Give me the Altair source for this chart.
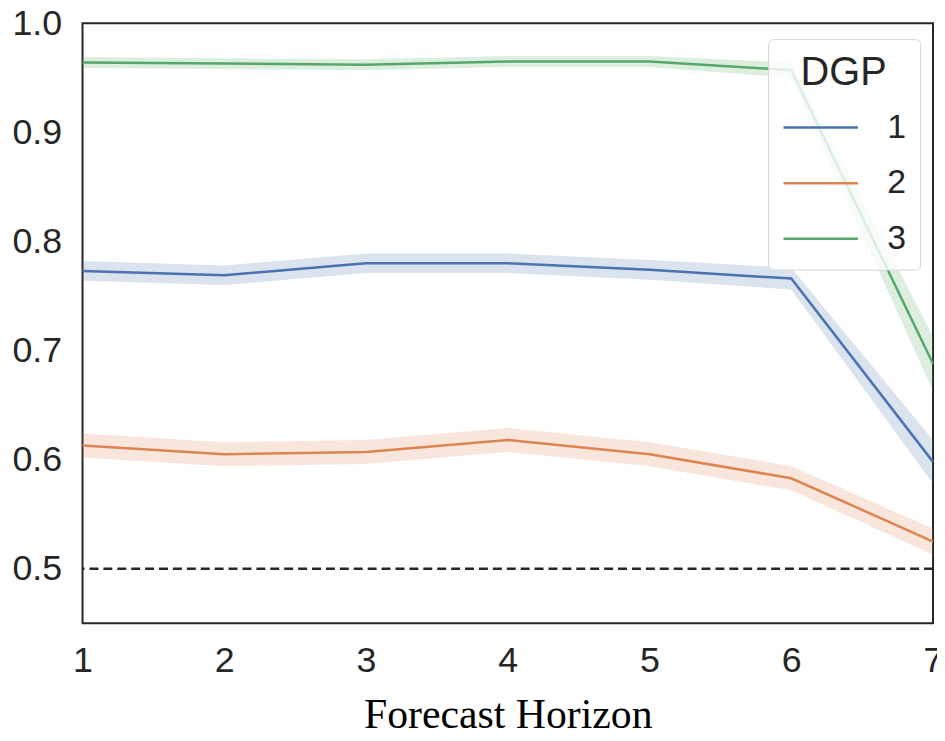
import altair as alt
import pandas as pd

horizons = [1, 2, 3, 4, 5, 6, 7]
dgp_labels = ["1", "2", "3"]

dgp1_mean = [0.773, 0.769, 0.780, 0.780, 0.774, 0.766, 0.598]
dgp2_mean = [0.613, 0.605, 0.607, 0.618, 0.605, 0.583, 0.525]
dgp3_mean = [0.964, 0.963, 0.962, 0.965, 0.965, 0.957, 0.688]

dgp1_ci = [0.009, 0.009, 0.009, 0.009, 0.009, 0.010, 0.020]
dgp2_ci = [0.011, 0.011, 0.011, 0.011, 0.011, 0.011, 0.012]
dgp3_ci = [0.005, 0.005, 0.005, 0.005, 0.005, 0.007, 0.025]

chance_level = [0.5]
colors = ["#4C72B0", "#DD8452", "#55A868"]

rows = []
for lab, means, cis in zip(dgp_labels, [dgp1_mean, dgp2_mean, dgp3_mean],
                           [dgp1_ci, dgp2_ci, dgp3_ci]):
    for h, m, c in zip(horizons, means, cis):
        rows.append({"horizon": h, "DGP": lab, "mean": m, "lo": m - c, "hi": m + c})
df = pd.DataFrame(rows)
ref_df = pd.DataFrame({"y": chance_level})

x_enc = alt.X("horizon:Q",
              scale=alt.Scale(domain=[1, 7], nice=False, zero=False),
              axis=alt.Axis(values=horizons, format="d", title="Forecast Horizon",
                            grid=False, ticks=False, tickSize=0, domain=False,
                            labelFlush=False,
                            labelFont="Liberation Sans", labelFontSize=36,
                            labelColor="#262626", labelPadding=20,
                            titleFont="Liberation Serif", titleFontSize=42,
                            titleFontWeight="normal", titleColor="#000000",
                            titlePadding=17))
y_scale = alt.Scale(domain=[0.45, 1.0], nice=False, zero=False)
y_axis = alt.Axis(values=[0.5, 0.6, 0.7, 0.8, 0.9, 1.0], format=".1f", title=None,
                  grid=False, ticks=False, tickSize=0, domain=False,
                  labelFont="Liberation Sans", labelFontSize=36,
                  labelColor="#262626", labelPadding=21)
color_scale = alt.Scale(domain=dgp_labels, range=colors)
legend = alt.Legend(title="DGP", orient="none", legendX=690, legendY=16,
                    symbolType="stroke")

band = alt.Chart(df).mark_area(opacity=0.2).encode(
    x=x_enc,
    y=alt.Y("lo:Q", scale=y_scale, axis=y_axis),
    y2="hi:Q",
    color=alt.Color("DGP:N", scale=color_scale, legend=legend),
)

ref = alt.Chart(ref_df).mark_rule(color="#262626", strokeWidth=2.6,
                                  strokeDash=[9, 5]).encode(
    y=alt.Y("y:Q", scale=y_scale),
)

lines = alt.Chart(df).mark_line(strokeWidth=2.5).encode(
    x=alt.X("horizon:Q"),
    y=alt.Y("mean:Q", scale=y_scale),
    color=alt.Color("DGP:N", scale=color_scale, legend=legend),
)

chart = alt.layer(band, ref, lines).properties(
    width=856, height=604,
    autosize=alt.AutoSizeParams(type="none"),
    padding={"left": 75, "top": 13, "right": 4, "bottom": 108},
).configure_view(
    stroke="#262626", strokeWidth=2
).configure_legend(
    fillColor="rgba(255,255,255,0.8)",
    strokeColor="#d6d6d6",
    cornerRadius=5,
    padding=14,
    titleFont="Liberation Sans",
    titleFontSize=40,
    titleFontWeight="normal",
    titleColor="#262626",
    titleAnchor="middle",
    titlePadding=-4,
    rowPadding=-8,
    labelFont="Liberation Sans",
    labelFontSize=34,
    labelColor="#262626",
    labelOffset=28,
    symbolSize=5625,
    symbolStrokeWidth=2.5,
    symbolOpacity=1,
)

chart.save("out.html", embed_options={"renderer": "svg", "actions": False})
